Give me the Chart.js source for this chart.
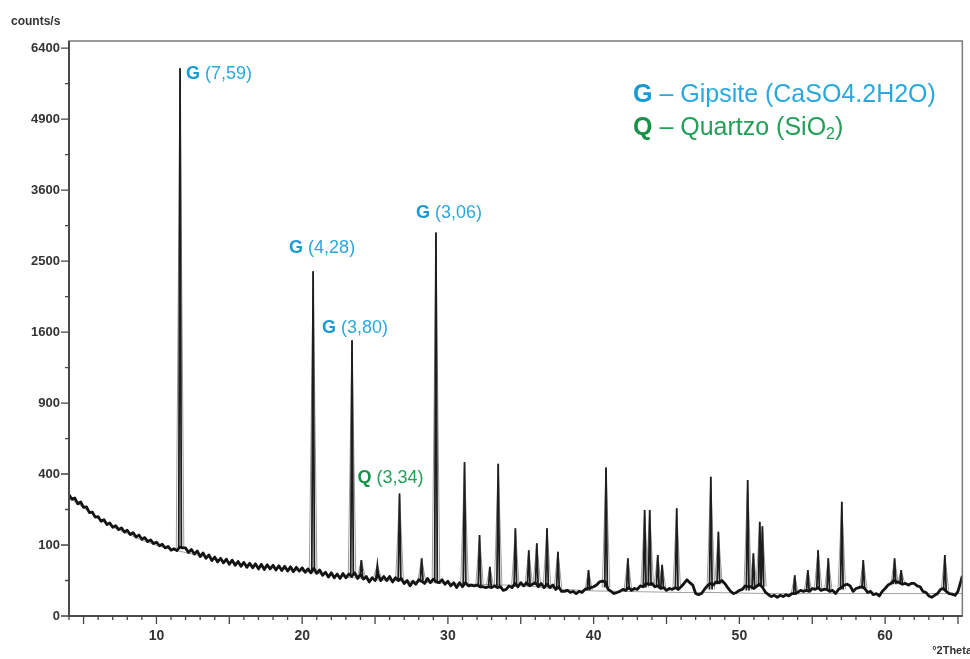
<!DOCTYPE html>
<html>
<head>
<meta charset="utf-8">
<script src="https://cdn.jsdelivr.net/npm/chart.js@4.4.1/dist/chart.umd.min.js"></script>
<style>
  html, body { margin: 0; padding: 0; background: #fff; }
  canvas { display: block; }
</style>
</head>
<body>
<canvas id="xrd" width="970" height="659"></canvas>
<script>
// Diffractogram scan: angle (°2θ) and intensity (counts/s)
const twoTheta = [
  4.0, 4.2, 4.4, 4.6, 4.8, 5.0, 5.2, 5.4, 5.6, 5.8,
  6.0, 6.2, 6.4, 6.6, 6.8, 7.0, 7.2, 7.4, 7.6, 7.8,
  8.0, 8.2, 8.4, 8.6, 8.8, 9.0, 9.2, 9.4, 9.6, 9.8,
  10.0, 10.2, 10.4, 10.6, 10.8, 11.0, 11.2, 11.4, 11.6, 11.8,
  12.0, 12.2, 12.4, 12.6, 12.8, 13.0, 13.2, 13.4, 13.6, 13.8,
  14.0, 14.2, 14.4, 14.6, 14.8, 15.0, 15.2, 15.4, 15.6, 15.8,
  16.0, 16.2, 16.4, 16.6, 16.8, 17.0, 17.2, 17.4, 17.6, 17.8,
  18.0, 18.2, 18.4, 18.6, 18.8, 19.0, 19.2, 19.4, 19.6, 19.8,
  20.0, 20.2, 20.4, 20.6, 20.8, 21.0, 21.2, 21.4, 21.6, 21.8,
  22.0, 22.2, 22.4, 22.6, 22.8, 23.0, 23.2, 23.4, 23.6, 23.8,
  24.0, 24.2, 24.4, 24.6, 24.8, 25.0, 25.2, 25.4, 25.6, 25.8,
  26.0, 26.2, 26.4, 26.6, 26.8, 27.0, 27.2, 27.4, 27.6, 27.8,
  28.0, 28.2, 28.4, 28.6, 28.8, 29.0, 29.2, 29.4, 29.6, 29.8,
  30.0, 30.2, 30.4, 30.6, 30.8, 31.0, 31.2, 31.4, 31.6, 31.8,
  32.0, 32.2, 32.4, 32.6, 32.8, 33.0, 33.2, 33.4, 33.6, 33.8,
  34.0, 34.2, 34.4, 34.6, 34.8, 35.0, 35.2, 35.4, 35.6, 35.8,
  36.0, 36.2, 36.4, 36.6, 36.8, 37.0, 37.2, 37.4, 37.6, 37.8,
  38.0, 38.2, 38.4, 38.6, 38.8, 39.0, 39.2, 39.4, 39.6, 39.8,
  40.0, 40.2, 40.4, 40.6, 40.8, 41.0, 41.2, 41.4, 41.6, 41.8,
  42.0, 42.2, 42.4, 42.6, 42.8, 43.0, 43.2, 43.4, 43.6, 43.8,
  44.0, 44.2, 44.4, 44.6, 44.8, 45.0, 45.2, 45.4, 45.6, 45.8,
  46.0, 46.2, 46.4, 46.6, 46.8, 47.0, 47.2, 47.4, 47.6, 47.8,
  48.0, 48.2, 48.4, 48.6, 48.8, 49.0, 49.2, 49.4, 49.6, 49.8,
  50.0, 50.2, 50.4, 50.6, 50.8, 51.0, 51.2, 51.4, 51.6, 51.8,
  52.0, 52.2, 52.4, 52.6, 52.8, 53.0, 53.2, 53.4, 53.6, 53.8,
  54.0, 54.2, 54.4, 54.6, 54.8, 55.0, 55.2, 55.4, 55.6, 55.8,
  56.0, 56.2, 56.4, 56.6, 56.8, 57.0, 57.2, 57.4, 57.6, 57.8,
  58.0, 58.2, 58.4, 58.6, 58.8, 59.0, 59.2, 59.4, 59.6, 59.8,
  60.0, 60.2, 60.4, 60.6, 60.8, 61.0, 61.2, 61.4, 61.6, 61.8,
  62.0, 62.2, 62.4, 62.6, 62.8, 63.0, 63.2, 63.4, 63.6, 63.8,
  64.0, 64.2, 64.4, 64.6, 64.8, 65.0, 65.2, 65.3
];
const counts = [
  292, 270, 276, 250, 258, 234, 236, 212, 214, 194,
  196, 178, 184, 166, 172, 156, 162, 148, 154, 140,
  146, 132, 138, 124, 130, 117, 122, 110, 115, 104,
  108, 98, 102, 92, 96, 86, 90, 85, 94, 92,
  92, 80, 88, 76, 84, 70, 79, 66, 74, 61,
  69, 58, 66, 56, 64, 53, 62, 51, 59, 49,
  57, 47, 55, 46, 54, 44, 53, 43, 52, 44,
  51, 42, 50, 41, 49, 40, 48, 39, 47, 40,
  46, 38, 44, 37, 45, 36, 42, 33, 38, 30,
  37, 29, 35, 28, 36, 29, 35, 31, 37, 28,
  34, 27, 31, 23, 29, 25, 34, 25, 31, 25,
  31, 23, 29, 25, 28, 21, 25, 18, 24, 20,
  26, 24, 21, 28, 22, 27, 23, 22, 26, 20,
  24, 18, 22, 16, 22, 17, 22, 18, 19, 18,
  19, 17, 17, 16, 17, 16, 18, 16, 17, 13,
  14, 18, 16, 21, 17, 22, 18, 22, 18, 20,
  22, 17, 21, 16, 20, 16, 19, 14, 17, 12,
  12, 13, 11, 12, 10, 12, 11, 14, 15, 16,
  17, 19, 23, 24, 23, 14, 12, 10, 11, 12,
  14, 13, 16, 13, 15, 14, 18, 17, 21, 20,
  21, 17, 18, 15, 16, 13, 15, 14, 16, 14,
  17, 21, 26, 22, 19, 10, 9, 10, 14, 18,
  21, 19, 23, 22, 25, 21, 16, 12, 10, 11,
  13, 14, 18, 17, 17, 15, 18, 20, 16, 11,
  9, 7.5, 8.5, 7, 8.5, 7.5, 9, 8, 10, 10,
  11, 13, 12, 13, 12, 15, 14, 16, 13, 14,
  14, 12, 13, 10, 14, 16, 19, 20, 18, 12,
  15, 16, 17, 15, 11, 12, 9, 10, 8, 12,
  15, 19, 21, 25, 23, 22, 20, 21, 19, 21,
  21, 18, 17, 12, 11, 8, 7, 8.5, 10, 14,
  15, 12, 10, 9.5, 8.5, 12, 24, 32
];

// Fitted background under the scan
const bgTheta  = [4, 5, 6, 7, 8, 9, 10, 11, 12, 13, 14, 15, 16, 17, 18, 19, 20, 21, 22, 23, 24, 25, 26, 27, 28, 29, 30, 32, 34, 36, 38, 40, 42, 44, 46, 48, 50, 52, 54, 56, 58, 60, 62, 64, 65.3];
const bgCounts = [280, 232, 188, 157, 134, 114, 99, 88, 80, 72, 65, 58, 53, 49, 46, 43, 40, 36, 33, 30, 28, 26, 25, 24, 23, 22, 21, 20, 19, 17, 14, 12.5, 12, 11.5, 11, 11, 10.5, 10, 10, 10, 10, 10, 10, 10, 10];

// Reflections: position (°2θ), peak intensity and the level it rises from
const peakTheta  = [11.62, 20.75, 23.42, 24.06, 25.16, 26.68, 28.20, 29.18, 31.14, 32.17, 32.88, 33.45, 34.63, 35.55, 36.10, 36.80, 37.55, 39.65, 40.85, 42.35, 43.50, 43.85, 44.40, 44.70, 45.70, 48.04, 48.56, 50.57, 50.96, 51.40, 51.58, 53.80, 54.70, 55.40, 56.10, 57.03, 58.50, 60.65, 61.10, 64.10];
const peakCounts = [5955, 2360, 1510, 62, 52, 298, 66, 2920, 470, 130, 48, 460, 153, 86, 105, 153, 82, 42, 438, 66, 223, 223, 74, 52, 230, 385, 141, 367, 78, 176, 160, 33, 42, 86, 66, 259, 62, 66, 42, 74];
const peakBase   = [92, 41, 33, 31, 30, 27, 25, 24, 20, 18, 17, 17, 17, 18, 19, 18, 16, 13, 16, 14, 16, 18, 17, 15, 15, 14, 20, 13, 15, 17, 17, 9, 12, 14, 13, 14, 15, 20, 20, 13];

// Axis ticks (counts/s on a square-root axis, °2θ)
const yTickValues  = [0, 100, 400, 900, 1600, 2500, 3600, 4900, 6400];
const yMinorValues = [25, 225, 625, 1225, 2025, 3025, 4225, 5625];
const xTickLabels  = [10, 20, 30, 40, 50, 60];

// Phase identification labels
const labelPhase   = ['G', 'G', 'G', 'Q', 'G'];
const labelText    = ['(7,59)', '(4,28)', '(3,80)', '(3,34)', '(3,06)'];
const labelTheta   = [11.62, 20.75, 23.42, 26.68, 29.18];
const legendPhase  = ['G', 'Q'];
const legendText   = ['Gipsite (CaSO4.2H2O)', 'Quartzo (SiO'];

const phaseColor = { G: '#2aa8de', Q: '#22a058' };
const phaseMarkColor = { G: '#1799d3', Q: '#17914a' };

// Square-root intensity axis
class SqrtScale extends Chart.LinearScale {
  static id = 'sqrt';
  static defaults = {};
  getPixelForValue(value) {
    const lo = Math.sqrt(this.min), hi = Math.sqrt(this.max);
    return this.getPixelForDecimal((Math.sqrt(Math.max(value, 0)) - lo) / (hi - lo));
  }
  getValueForPixel(pixel) {
    const lo = Math.sqrt(this.min), hi = Math.sqrt(this.max);
    const s = lo + this.getDecimalForPixel(pixel) * (hi - lo);
    return s * s;
  }
}
Chart.register(SqrtScale);

const scanPoints = twoTheta.map((t, i) => ({ x: t, y: counts[i] }));
const bgPoints = bgTheta.map((t, i) => ({ x: t, y: bgCounts[i] }));

function peakOutline(halfWidth) {
  const pts = [];
  peakTheta.forEach((t, i) => {
    pts.push({ x: t - halfWidth, y: peakBase[i] });
    pts.push({ x: t, y: peakCounts[i] });
    pts.push({ x: t + halfWidth, y: peakBase[i] });
    pts.push({ x: t + halfWidth, y: null });
  });
  return pts;
}

// Label placement relative to each labelled peak top (pixels)
const labelOffset = [
  { dx: 6, dy: 6 },
  { dx: -24, dy: -23 },
  { dx: -30, dy: -12 },
  { dx: -42, dy: -15 },
  { dx: -20, dy: -19 }
];

const decor = {
  id: 'xrdDecor',
  afterDraw(chart) {
    const { ctx, chartArea: a, scales: { x, y } } = chart;
    ctx.save();

    // plot frame
    ctx.strokeStyle = '#7a7a7a';
    ctx.lineWidth = 1.5;
    ctx.strokeRect(a.left, a.top, a.right - a.left, a.bottom - a.top);
    ctx.strokeStyle = '#4a4a4a';
    ctx.lineWidth = 2;
    ctx.beginPath();
    ctx.moveTo(a.left, a.top);
    ctx.lineTo(a.left, a.bottom);
    ctx.lineTo(a.right, a.bottom);
    ctx.stroke();

    // tick marks
    ctx.strokeStyle = '#444';
    ctx.lineWidth = 1.3;
    ctx.beginPath();
    y.ticks.forEach(t => {
      const py = y.getPixelForValue(t.value);
      const len = yTickValues.includes(t.value) ? 8 : 4;
      ctx.moveTo(a.left - len, py);
      ctx.lineTo(a.left, py);
    });
    x.ticks.forEach(t => {
      const px = x.getPixelForValue(t.value);
      const len = t.value % 5 === 0 ? 8 : 4;
      ctx.moveTo(px, a.bottom);
      ctx.lineTo(px, a.bottom + len);
    });
    ctx.stroke();

    // axis titles
    ctx.fillStyle = '#333';
    ctx.font = 'bold 12px "Liberation Sans", Arial, sans-serif';
    ctx.textBaseline = 'middle';
    ctx.textAlign = 'left';
    ctx.fillText('counts/s', 11, 22);
    ctx.font = 'bold 11px "Liberation Sans", Arial, sans-serif';
    ctx.textAlign = 'right';
    ctx.fillText('°2Theta', 972, 651);

    // peak labels
    ctx.textAlign = 'left';
    labelText.forEach((txt, i) => {
      const idx = peakTheta.indexOf(labelTheta[i]);
      const px = x.getPixelForValue(labelTheta[i]) + labelOffset[i].dx;
      const py = y.getPixelForValue(peakCounts[idx]) + labelOffset[i].dy;
      const ph = labelPhase[i];
      ctx.font = 'bold 18px "Liberation Sans", Arial, sans-serif';
      ctx.fillStyle = phaseMarkColor[ph];
      ctx.fillText(ph, px, py);
      const w = ctx.measureText(ph + ' ').width;
      ctx.font = '18px "Liberation Sans", Arial, sans-serif';
      ctx.fillStyle = phaseColor[ph];
      ctx.fillText(txt, px + w, py);
    });

    // phase key
    const keyX = 633, keyY = [95, 128];
    legendPhase.forEach((ph, i) => {
      ctx.font = 'bold 25px "Liberation Sans", Arial, sans-serif';
      ctx.fillStyle = phaseMarkColor[ph];
      ctx.fillText(ph, keyX, keyY[i]);
      let cx = keyX + ctx.measureText(ph).width;
      ctx.font = '25px "Liberation Sans", Arial, sans-serif';
      ctx.fillStyle = phaseColor[ph];
      const body = ' \u2013 ' + legendText[i];
      ctx.fillText(body, cx, keyY[i]);
      cx += ctx.measureText(body).width;
      if (ph === 'Q') {
        ctx.font = '16px "Liberation Sans", Arial, sans-serif';
        ctx.fillText('2', cx, keyY[i] + 7);
        cx += ctx.measureText('2').width;
        ctx.font = '25px "Liberation Sans", Arial, sans-serif';
        ctx.fillText(')', cx, keyY[i]);
      }
    });

    ctx.restore();
  }
};

new Chart(document.getElementById('xrd'), {
  type: 'line',
  data: {
    datasets: [
      { data: scanPoints, borderColor: '#141414', borderWidth: 2.8, borderJoinStyle: 'round', pointRadius: 0, tension: 0 },
      { data: peakOutline(0.09), borderColor: '#1e1e1e', borderWidth: 1.8, pointRadius: 0, spanGaps: false },
      { data: peakOutline(0.26), borderColor: '#9c9c9c', borderWidth: 1, pointRadius: 0, spanGaps: false },
      { data: bgPoints, borderColor: '#a0a0a0', borderWidth: 1, pointRadius: 0 }
    ]
  },
  options: {
    responsive: false,
    animation: false,
    events: [],
    layout: { padding: { top: 41, right: 5, left: 0, bottom: 0 } },
    plugins: { legend: { display: false }, tooltip: { enabled: false } },
    scales: {
      x: {
        type: 'linear',
        min: 4,
        max: 65.3,
        grid: { display: false, drawTicks: false },
        border: { display: false },
        afterBuildTicks: (scale) => {
          const t = [];
          for (let v = 4; v <= 65; v++) t.push({ value: v });
          scale.ticks = t;
        },
        afterFit: (scale) => { scale.height = 43; },
        ticks: {
          autoSkip: false,
          maxRotation: 0,
          padding: 12,
          color: '#333',
          font: { family: '"Liberation Sans", Arial, sans-serif', size: 14, weight: 'bold' },
          callback: (v) => xTickLabels.includes(v) ? String(v) : ''
        }
      },
      y: {
        type: 'sqrt',
        min: 0,
        max: 6561,
        grid: { display: false, drawTicks: false },
        border: { display: false },
        afterBuildTicks: (scale) => {
          scale.ticks = yTickValues.concat(yMinorValues).sort((p, q) => p - q).map(v => ({ value: v }));
        },
        afterFit: (scale) => { scale.width = 69; },
        ticks: {
          autoSkip: false,
          padding: 9,
          color: '#333',
          font: { family: '"Liberation Sans", Arial, sans-serif', size: 13, weight: 'bold' },
          callback: (v) => yTickValues.includes(v) ? String(v) : ''
        }
      }
    }
  },
  plugins: [decor]
});
</script>
</body>
</html>
